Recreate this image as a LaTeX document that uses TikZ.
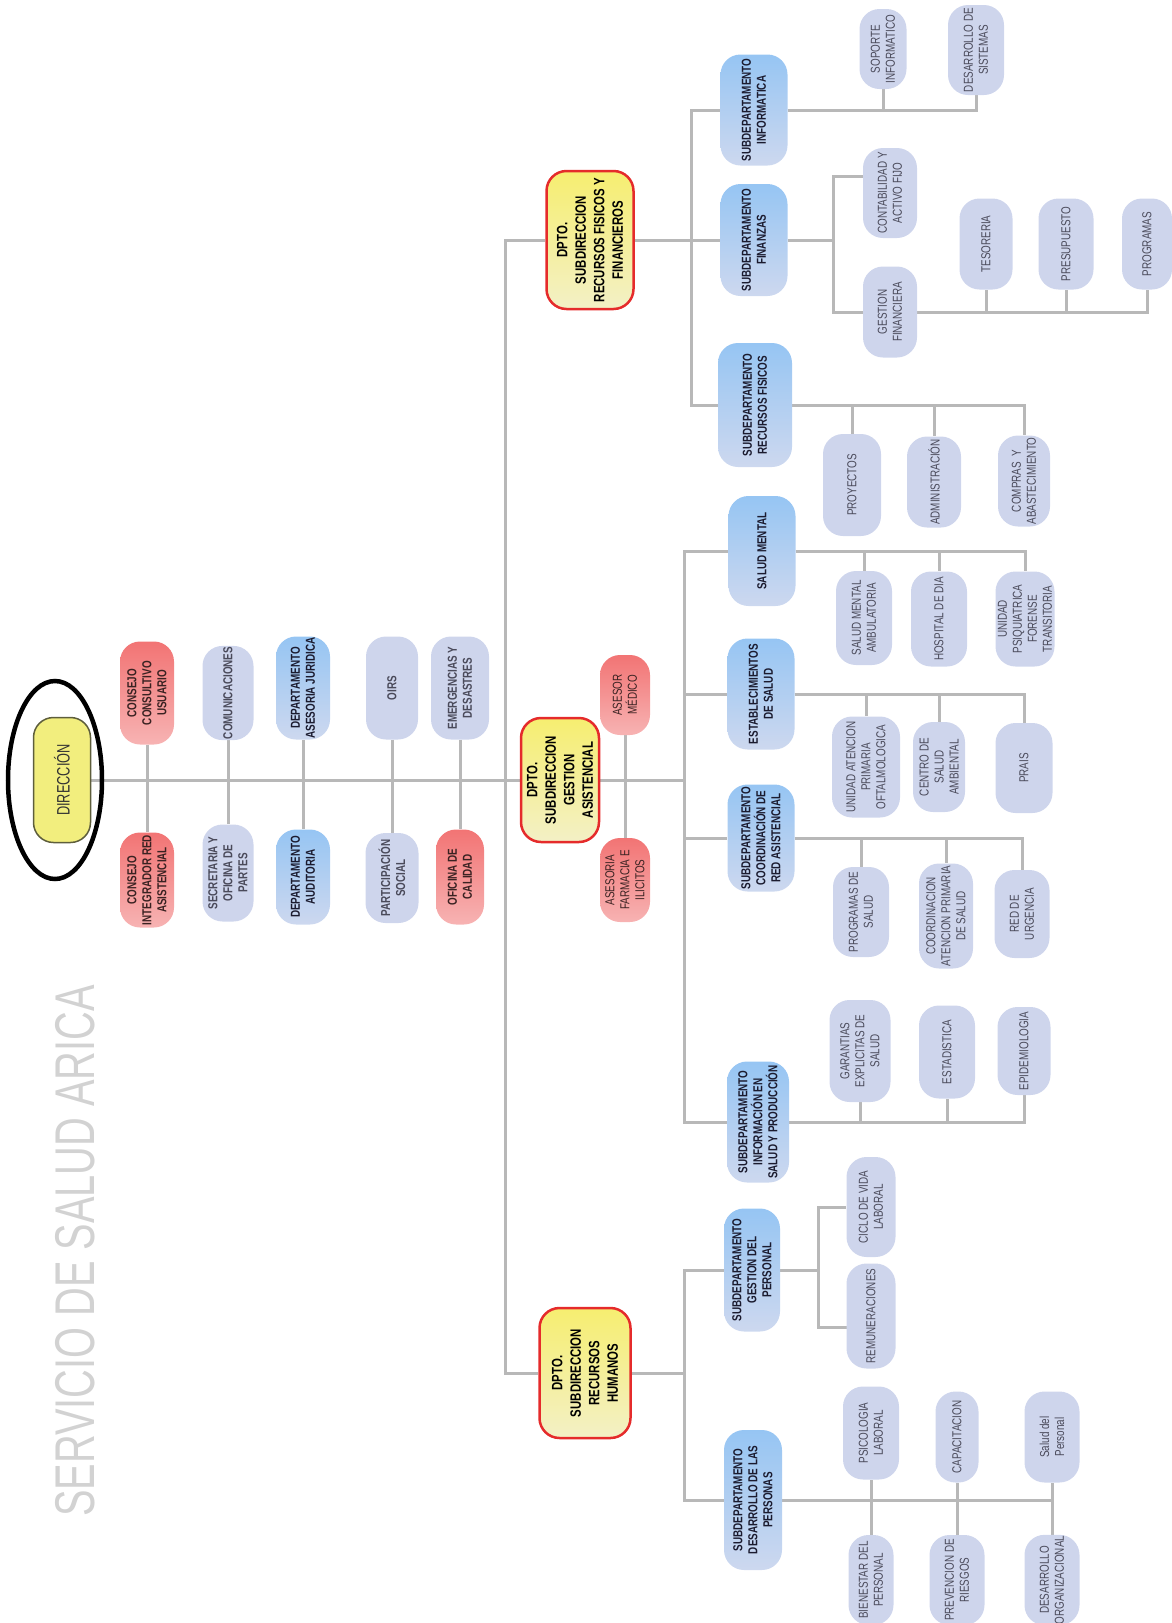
\documentclass[tikz,border=0pt]{standalone}
\usepackage{fontspec}
\newfontfamily\orgfont[FakeStretch=0.76]{Liberation Sans}
\newfontfamily\titfont[FakeStretch=0.71]{Liberation Sans}
\usetikzlibrary{backgrounds}
\definecolor{lavbox}{HTML}{CED5EC}
\definecolor{blubox}{HTML}{96C5F3}
\definecolor{blulight}{HTML}{CDD8EF}
\definecolor{redbox}{HTML}{F27474}
\definecolor{redlight}{HTML}{F7B3B3}
\definecolor{yelbox}{HTML}{F6EE70}
\definecolor{yellight}{HTML}{F3F0C6}
\definecolor{dirbox}{HTML}{F2EE7E}
\definecolor{dirline}{HTML}{5E5E3C}
\definecolor{dptoline}{HTML}{E52B2B}
\definecolor{linegray}{HTML}{B8B8B8}
\definecolor{lavtxt}{HTML}{4A4A5A}
\definecolor{blutxt}{HTML}{1B1B2F}
\definecolor{redtxt}{HTML}{3A2222}
\definecolor{titgray}{HTML}{D2D2D2}

\begin{document}
\begin{tikzpicture}[x=1pt, y=-1pt,
    box/.style={rotate=90, align=center, inner sep=1pt, rounded corners=20pt},
    sz/.style 2 args={minimum height=#1pt, minimum width=#2pt},
    lav/.style={box, fill=lavbox, text=lavtxt, font=\orgfont\fontsize{13}{15}\selectfont},
    lavb/.style={lav, font=\orgfont\bfseries\fontsize{13}{15}\selectfont},
    blu/.style={box, top color=blubox, bottom color=blulight, text=blutxt,
        font=\orgfont\bfseries\fontsize{13}{15}\selectfont},
    rojo/.style={box, top color=redbox, bottom color=redlight, text=redtxt,
        font=\orgfont\fontsize{13}{15}\selectfont},
    rojob/.style={rojo, font=\orgfont\bfseries\fontsize{13}{15}\selectfont},
    dpto/.style={box, top color=yelbox, bottom color=yellight, draw=dptoline, line width=2.5pt,
        text=black, font=\orgfont\bfseries\fontsize{15}{18.5}\selectfont},
    conn/.style={draw=linegray, line width=3pt}]
        \useasboundingbox (0, 0) rectangle (1172, 1623);
        \clip (0, 0) rectangle (1172, 1623);
        \node [rotate=90, text=titgray, font=\titfont\fontsize{56}{60}\selectfont]
            (tit) at (75, 1251) {SERVICIO DE SALUD ARICA};
        \node [box, sz={57}{125}, fill=dirbox, draw=dirline, line width=1.5pt, text=black!80,
            font=\titfont\fontsize{18}{20}\selectfont] (dir) at (62, 780) {DIRECCIÓN};
        \draw [line width=4.5pt] ([xshift=-7pt]dir.center) ellipse [x radius=47pt, y radius=99pt];
        \node [rojob, sz={54}{103}] (ccu) at (147, 693) {CONSEJO\\CONSULTIVO\\USUARIO};
        \node [rojob, sz={54}{95}] (cir) at (147, 880) {CONSEJO\\INTEGRADOR RED\\ASISTENCIAL};
        \node [lavb, sz={51}{92}] (com) at (228, 693) {COMUNICACIONES};
        \node [lavb, sz={51}{97}] (sop) at (228, 873) {SECRETARIA Y\\OFICINA DE\\PARTES};
        \node [blu, sz={54}{103}] (daj) at (303, 688) {DEPARTAMENTO\\ASESORIA JURIDICA};
        \node [blu, sz={54}{95}] (dau) at (303, 877) {DEPARTAMENTO\\AUDITORIA};
        \node [lavb, sz={52}{103}] (oirs) at (392, 688) {OIRS};
        \node [lavb, sz={53}{90}] (pso) at (392, 878) {PARTICIPACIÓN\\SOCIAL};
        \node [lavb, sz={58}{103}] (emd) at (460, 688) {EMERGENCIAS Y\\DESASTRES};
        \node [rojob, sz={48}{95}] (ocal) at (460, 877) {OFICINA DE\\CALIDAD};
        \node [dpto, sz={78}{124}] (gsa) at (560, 780) {DPTO.\\SUBDIRECCION\\GESTION\\ASISTENCIAL};
        \node [rojo, sz={50}{80}] (asm) at (625, 695) {ASESOR\\MÉDICO};
        \node [rojo, sz={50}{84}] (afi) at (625, 880) {ASESORIA\\FARMACIA E\\ILICITOS};
        \node [blu, sz={67}{110}] (smen) at (762, 551) {SALUD MENTAL};
        \node [lav, sz={56}{94}] (sma) at (864, 618) {SALUD MENTAL\\AMBULATORIA};
        \node [lav, sz={56}{95}] (hdia) at (939, 619) {HOSPITAL DE DIA};
        \node [lav, sz={59}{95}] (upf) at (1025, 619) {UNIDAD\\PSIQUIATRICA\\FORENSE\\TRANSITORIA};
        \node [blu, sz={67}{111}] (est) at (761, 694) {ESTABLECIMIENTOS\\DE SALUD};
        \node [lav, sz={68}{101}] (uap) at (866, 767) {UNIDAD ATENCION\\PRIMARIA\\OFTALMOLOGICA};
        \node [lav, sz={52}{90}] (csa) at (939, 767) {CENTRO DE\\SALUD\\AMBIENTAL};
        \node [lav, sz={57}{90}] (prais) at (1024, 768) {PRAIS};
        \node [blu, sz={67}{107}] (cred) at (761, 838) {SUBDEPARTAMENTO\\COORDINACIÓN DE\\RED ASISTENCIAL};
        \node [lav, sz={56}{90}] (pgs) at (861, 912) {PROGRAMAS DE\\SALUD};
        \node [lav, sz={54}{105}] (cap) at (946, 916) {COORDINACION\\ATENCION PRIMARIA\\DE SALUD};
        \node [lav, sz={55}{88}] (rur) at (1022, 914) {RED DE\\URGENCIA};
        \node [blu, sz={62}{121}] (isp) at (758, 1122) {SUBDEPARTAMENTO\\INFORMACIÓN EN\\SALUD Y PRODUCCIÓN};
        \node [lav, sz={61}{102}] (ges) at (860, 1051) {GARANTIAS\\EXPLICITAS DE\\SALUD};
        \node [lav, sz={56}{93}] (esta) at (947, 1052) {ESTADISTICA};
        \node [lav, sz={53}{88}] (epi) at (1024, 1051) {EPIDEMIOLOGIA};
        \node [dpto, sz={87}{138}] (rff) at (590, 240) {DPTO.\\SUBDIRECCION\\RECURSOS FISICOS Y\\FINANCIEROS};
        \node [blu, sz={67}{111}] (inf) at (754, 110) {SUBDEPARTAMENTO\\INFORMATICA};
        \node [lav, sz={47}{80}] (sopi) at (883, 49) {SOPORTE\\INFORMATICO};
        \node [lav, sz={56}{90}] (dsis) at (976, 50) {DESARROLLO DE\\SISTEMAS};
        \node [blu, sz={67}{112}] (fin) at (754, 240) {SUBDEPARTAMENTO\\FINANZAS};
        \node [lav, sz={54}{90}] (cont) at (890, 193) {CONTABILIDAD Y\\ACTIVO FIJO};
        \node [lav, sz={54}{91}] (gfin) at (890, 312) {GESTION\\FINANCIERA};
        \node [lav, sz={53}{91}] (tes) at (986, 244) {TESORERIA};
        \node [lav, sz={55}{91}] (pre) at (1066, 244) {PRESUPUESTO};
        \node [lav, sz={50}{91}] (prg) at (1147, 244) {PROGRAMAS};
        \node [blu, sz={74}{124}] (rfis) at (755, 405) {SUBDEPARTAMENTO\\RECURSOS FISICOS};
        \node [lav, sz={58}{102}] (proy) at (852, 485) {PROYECTOS};
        \node [lav, sz={54}{91}] (adm) at (934, 482) {ADMINISTRACIÓN};
        \node [lav, sz={52}{91}] (cyab) at (1024, 481) {COMPRAS\ \ Y\\ABASTECIMIENTO};
        \node [dpto, sz={91}{130}] (rrh) at (585, 1373) {DPTO.\\SUBDIRECCION\\RECURSOS\\HUMANOS};
        \node [blu, sz={56}{123}] (gper) at (752, 1270) {SUBDEPARTAMENTO\\GESTION DEL\\PERSONAL};
        \node [lav, sz={49}{100}] (cvl) at (871, 1207) {CICLO DE VIDA\\LABORAL};
        \node [lav, sz={49}{105}] (rem) at (871, 1316) {REMUNERACIONES};
        \node [blu, sz={58}{140}] (dper) at (753, 1500) {SUBDEPARTAMENTO\\DESARROLLO DE LAS\\PERSONAS};
        \node [lav, sz={56}{93}] (psl) at (871, 1433) {PSICOLOGIA\\LABORAL};
        \node [lav, sz={45}{90}] (ben) at (871, 1580) {BIENESTAR DEL\\PERSONAL};
        \node [lav, sz={43}{91}] (capa) at (957, 1437) {CAPACITACION};
        \node [lav, sz={55}{90}] (prev) at (957, 1580) {PREVENCION DE\\RIESGOS};
        \node [lav, sz={55}{91}] (sdp) at (1052, 1437) {Salud del\\Personal};
        \node [lav, sz={55}{90}] (dorg) at (1052, 1580) {DESARROLLO\\ORGANIZACIONAL};
        \coordinate (trk) at (505, 782);
        \coordinate (gab) at (684, 780);
        \coordinate (rfb) at (691, 240);
        \coordinate (fnb) at (833, 240);
        \coordinate (rhb) at (684, 1373);
        \coordinate (gpb) at (818, 1270);
        \begin{scope}[on background layer]
            \draw [conn] (dir) -- (gsa) -- (gab);
            \draw [conn] (rff) -| (trk) |- (rrh);
            \draw [conn] (ccu) -- (cir) (com) -- (sop) (daj) -- (dau)
                (oirs) -- (pso) (emd) -- (ocal) (asm) -- (afi);
            \foreach \s in {smen, est, cred, isp} {
                \draw [conn] (gab) |- (\s);
            }
            \foreach \c in {sma, hdia, upf} {
                \draw [conn] (smen) -| (\c);
            }
            \foreach \c in {uap, csa, prais} {
                \draw [conn] (est) -| (\c);
            }
            \foreach \c in {pgs, cap, rur} {
                \draw [conn] (cred) -| (\c);
            }
            \foreach \c in {ges, esta, epi} {
                \draw [conn] (isp) -| (\c);
            }
            \draw [conn] (rff) -- (rfb) -- (fin) -- (fnb);
            \draw [conn] (rfb) |- (inf) (rfb) |- (rfis);
            \foreach \c in {sopi, dsis} {
                \draw [conn] (inf) -| (\c);
            }
            \draw [conn] (fnb) |- ([yshift=17pt]cont.center) (fnb) |- (gfin);
            \foreach \c in {tes, pre, prg} {
                \draw [conn] (gfin) -| (\c);
            }
            \foreach \c in {proy, adm, cyab} {
                \draw [conn] (rfis) -| (\c);
            }
            \draw [conn] (rrh) -- (rhb);
            \draw [conn] (rhb) |- (gper) (rhb) |- (dper);
            \draw [conn] (gper) -- (gpb);
            \draw [conn] (gpb) |- (cvl) (gpb) |- ([yshift=-11pt]rem.center);
            \foreach \c in {psl, ben, capa, prev, sdp, dorg} {
                \draw [conn] (dper) -| (\c);
            }
        \end{scope}
    \end{tikzpicture}
\end{document}
